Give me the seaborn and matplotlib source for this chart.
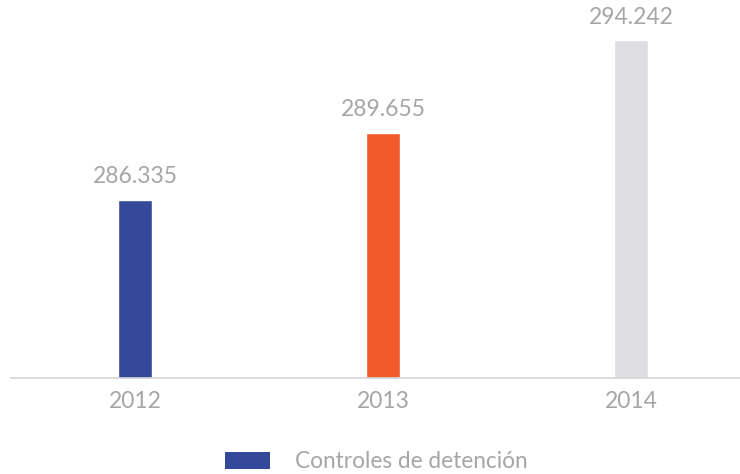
import numpy as np
import pandas as pd
import seaborn as sns
import matplotlib
matplotlib.use("Agg")
import matplotlib.pyplot as plt
from matplotlib.patches import Patch

# --- data ---
years = ["2012", "2013", "2014"]
values = [286.335, 289.655, 294.242]
value_labels = ["286.335", "289.655", "294.242"]
bar_colors = ["#34499A", "#F25A2B", "#DEDEE0"]
series_name = "Controles de detención"

df = pd.DataFrame({"year": years, "value": values})

sns.set_theme(style="white")
plt.rcParams["font.family"] = ["Lato", "DejaVu Sans"]
text_grey = "#A6A6A6"

fig = plt.figure(figsize=(7.4, 4.74), dpi=100)
ax = fig.add_axes([11 / 740, (474 - 378) / 474, 744 / 740, 378 / 474])

sns.barplot(data=df, x="year", y="value", hue="year", palette=bar_colors,
            width=0.137, legend=False, ax=ax, saturation=1)

ax.set_xlim(-0.5, 2.5)
ax.set_ylim(277.51, 296.21)

for i, (v, lab) in enumerate(zip(values, value_labels)):
    ax.text(i, v + 0.6, lab, ha="center", va="bottom", fontsize=16.5,
            color=text_grey)

for s in ["top", "right", "left"]:
    ax.spines[s].set_visible(False)
ax.spines["bottom"].set_color("#D5D5D5")
ax.spines["bottom"].set_linewidth(1.2)
ax.set_yticks([])
ax.set_xlabel("")
ax.set_ylabel("")
ax.tick_params(axis="x", length=0, pad=9, labelsize=16.5, labelcolor=text_grey)

handles = [Patch(facecolor=bar_colors[0], edgecolor="none")]
fig.legend(handles, [series_name], loc="center", bbox_to_anchor=(376 / 740, 1 - 462 / 474),
           frameon=False, handlelength=2.0, handleheight=0.8, handletextpad=1.1,
           prop={"size": 16.3}, labelcolor=text_grey)

fig.savefig("out.png", dpi=100)
